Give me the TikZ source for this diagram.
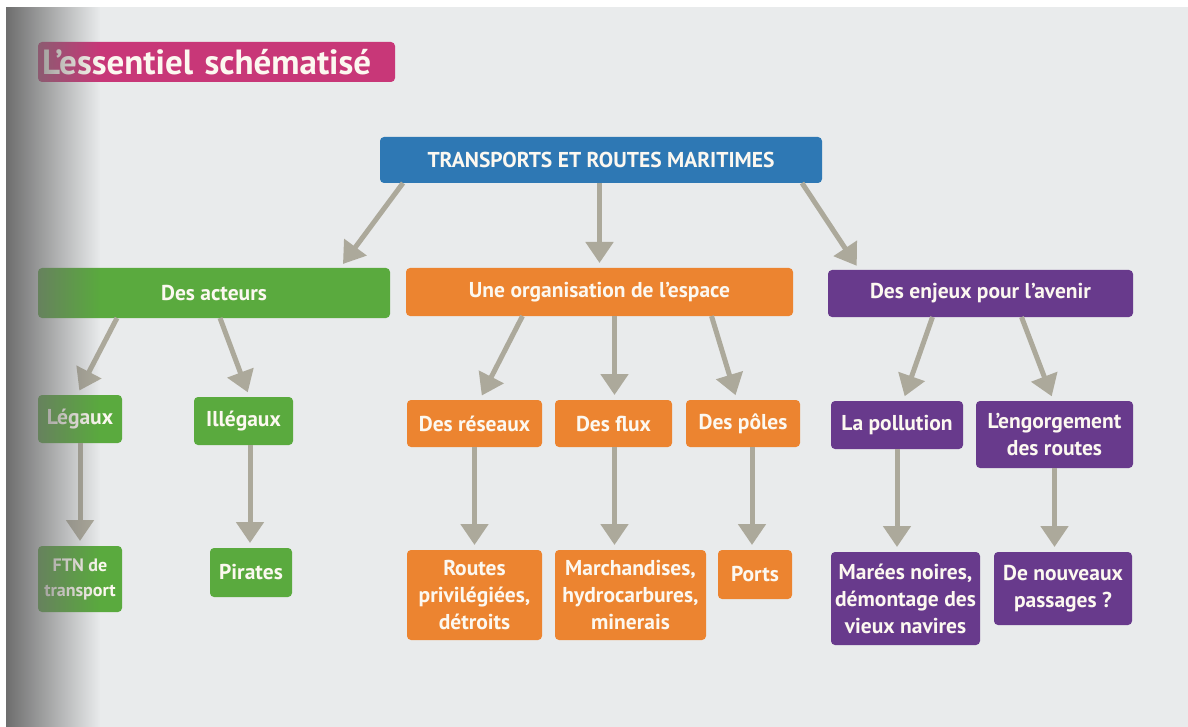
\documentclass[tikz,border=0pt]{standalone}
\usepackage{fontspec}
\setmainfont{PT Sans}
\usetikzlibrary{arrows.meta,fadings,calc}
\definecolor{cbg}{RGB}{233,235,236}
\definecolor{cblue}{RGB}{46,120,180}
\definecolor{cgreen}{RGB}{90,170,62}
\definecolor{corange}{RGB}{236,132,48}
\definecolor{cpurple}{RGB}{104,58,140}
\definecolor{cpink}{RGB}{200,55,120}
\definecolor{carrow}{RGB}{172,169,155}
\definecolor{ctext}{RGB}{252,248,240}
\definecolor{cshadow}{RGB}{110,110,110}
\tikzfading[name=fadeR, left color=transparent!0, right color=transparent!100]
\begin{document}
\begin{tikzpicture}[x=1pt,y=-1pt,
  box/.style={rounded corners=4pt, inner sep=0pt, outer sep=0pt, text=ctext,
    align=center, font=\fontsize{21.5}{27}\selectfont\bfseries},
  gbox/.style={box, fill=cgreen},
  obox/.style={box, fill=corange},
  pbox/.style={box, fill=cpurple},
  arr/.style={draw=carrow, line width=5pt, -{Triangle[width=27pt,length=21pt]}, shorten >=5pt}
]
\useasboundingbox (0,0) rectangle (1188,727);
\fill[white] (0,0) rectangle (1188,727);
\fill[cbg] (6,7) rectangle (1188,727);

% title
\node[box, fill=cpink, minimum width=357pt, minimum height=40pt, text width=357pt, align=left,
  font=\fontsize{35}{36}\selectfont\bfseries] (title) at (216.5,62) {\hspace*{4pt}L'essentiel schématisé};

% nodes
\node[box, fill=cblue, minimum width=442pt, minimum height=46pt] (main) at (601,160) {TRANSPORTS ET ROUTES MARITIMES};

\node[gbox, minimum width=352pt, minimum height=50pt] (acteurs) at (214,293) {Des acteurs};
\node[obox, minimum width=387pt, minimum height=48pt] (org) at (599.5,292) {Une organisation de l’espace};
\node[pbox, minimum width=305pt, minimum height=47pt] (enjeux) at (980.5,293.5) {Des enjeux pour l’avenir};

\node[gbox, minimum width=84pt, minimum height=48pt] (legaux) at (80,419) {Légaux};
\node[gbox, minimum width=99pt, minimum height=48pt] (illegaux) at (243.5,421) {Illégaux};
\node[obox, minimum width=135pt, minimum height=47pt] (reseaux) at (474.5,423.5) {Des réseaux};
\node[obox, minimum width=117pt, minimum height=47pt] (flux) at (613.5,423.5) {Des flux};
\node[obox, minimum width=114pt, minimum height=47pt] (poles) at (743,423.5) {Des pôles};
\node[pbox, minimum width=132pt, minimum height=48pt] (pollution) at (897,425) {La pollution};
\node[pbox, minimum width=157pt, minimum height=67pt] (engorgement) at (1054.5,434.5) {L’engorgement\\des routes};

\node[gbox, minimum width=84pt, minimum height=66pt, font=\fontsize{18}{25}\selectfont\bfseries] (ftn) at (80,579) {FTN de\\transport};
\node[gbox, minimum width=82pt, minimum height=49pt] (pirates) at (251,572.5) {Pirates};
\node[obox, minimum width=135pt, minimum height=90pt] (routes) at (474.5,595) {Routes\\privilégiées,\\détroits};
\node[obox, minimum width=151pt, minimum height=90pt] (marchandises) at (630.5,595) {Marchandises,\\hydrocarbures,\\minerais};
\node[obox, minimum width=74pt, minimum height=49pt] (ports) at (755,574.5) {Ports};
\node[pbox, minimum width=149pt, minimum height=93pt] (marees) at (905.5,598.5) {Marées noires,\\démontage des\\vieux navires};
\node[pbox, minimum width=138pt, minimum height=73pt] (nouveaux) at (1063,588.5) {De nouveaux\\passages ?};

% connectors
\draw[arr] ([xshift=-198pt]main.south) -- ([xshift=126pt]acteurs.north);
\draw[arr] (main.south -| org.north) -- (org.north);
\draw[arr] ([xshift=201pt]main.south) -- ([xshift=-121pt]enjeux.north);

\draw[arr] ([xshift=-97pt]acteurs.south) -- ([xshift=-3pt]legaux.north);
\draw[arr] ([xshift=6pt]acteurs.south) -- ([xshift=6pt]illegaux.north);
\draw[arr] ([xshift=-77pt]org.south) -- ([xshift=5pt]reseaux.north);
\draw[arr] ([xshift=15pt]org.south) -- ([xshift=1pt]flux.north);
\draw[arr] ([xshift=112pt]org.south) -- ([xshift=-6pt]poles.north);
\draw[arr] ([xshift=-48pt]enjeux.south) -- ([xshift=6pt]pollution.north);
\draw[arr] ([xshift=41pt]enjeux.south) -- ([xshift=-1pt]engorgement.north);

\draw[arr] (legaux.south) -- (ftn.north);
\draw[arr] ([xshift=6.5pt]illegaux.south) -- ([xshift=6.5pt]illegaux.south |- pirates.north);
\draw[arr] (reseaux.south) -- (routes.north);
\draw[arr] ([xshift=1pt]flux.south) -- ([xshift=1pt]flux.south |- marchandises.north);
\draw[arr] ([xshift=9pt]poles.south) -- ([xshift=9pt]poles.south |- ports.north);
\draw[arr] (pollution.south) -- (pollution.south |- marees.north);
\draw[arr] (engorgement.south) -- (engorgement.south |- nouveaux.north);

% binding shadow
\fill[cshadow, path fading=fadeR] (6,7) rectangle (100,727);
\end{tikzpicture}
\end{document}
